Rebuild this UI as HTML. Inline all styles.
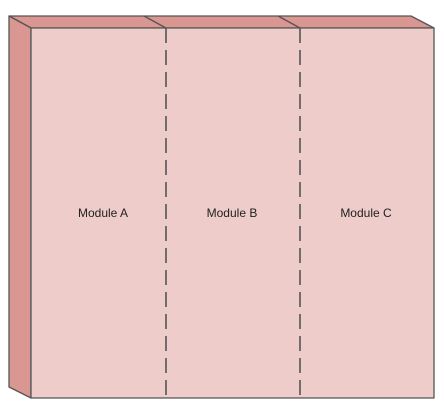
<!DOCTYPE html>
<html><head><meta charset="utf-8"><style>body{margin:0;background:#fff}svg{display:block}</style></head>
<body>
<svg width="444" height="410" viewBox="0 0 444 410">
<g stroke="#555" stroke-width="1.3" stroke-linejoin="round">
<polygon points="9,16 411,16 434,28 31,28" fill="#da9691"/>
<polygon points="9,16 31,28 31,398 9,387" fill="#da9691"/>
<rect x="31" y="28" width="403" height="370" fill="#eeccca"/>
<line x1="144" y1="16" x2="166" y2="28"/>
<line x1="278" y1="16" x2="300" y2="28"/>
<line x1="166" y1="28" x2="166" y2="398" stroke-dasharray="15,7" stroke-width="1.6"/>
<line x1="300" y1="28" x2="300" y2="398" stroke-dasharray="15,7" stroke-width="1.6"/>
</g>
<g font-family="Liberation Sans, sans-serif" font-size="12" fill="#222" text-anchor="middle">
<text x="103" y="217">Module A</text>
<text x="232" y="217">Module B</text>
<text x="366" y="217">Module C</text>
</g>
</svg>
</body></html>
